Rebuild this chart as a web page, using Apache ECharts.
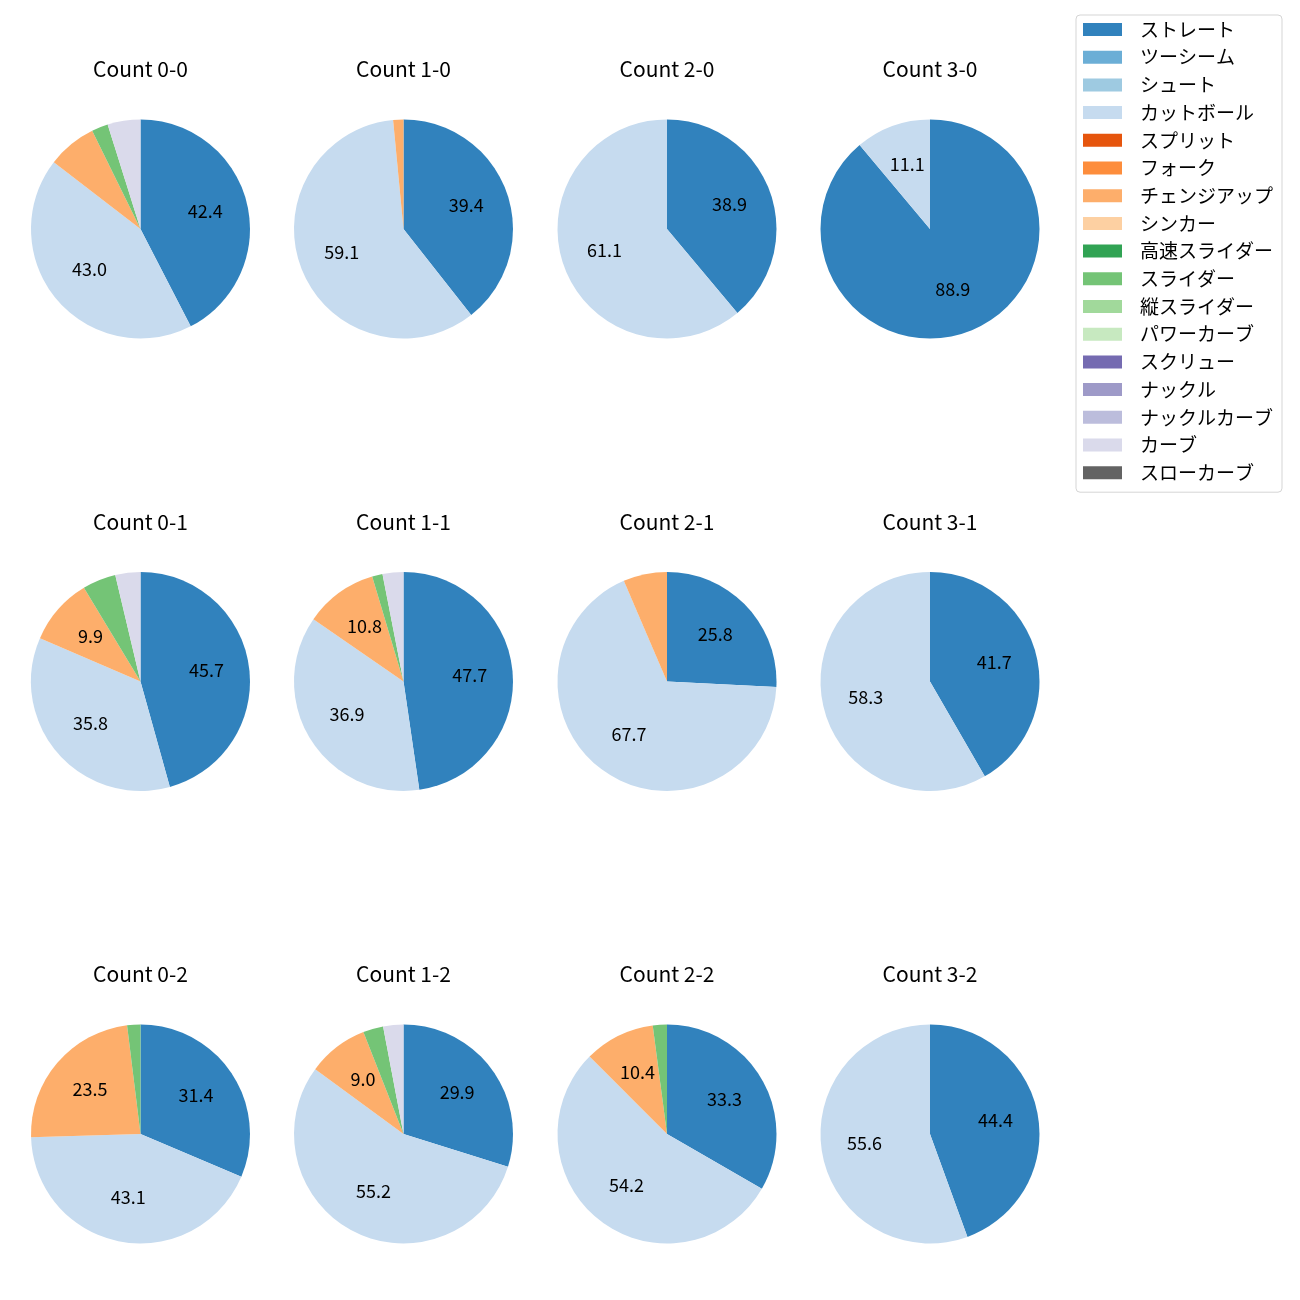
<!DOCTYPE html>
<html><head><meta charset="utf-8">
<script src="https://cdn.jsdelivr.net/npm/echarts@6/dist/echarts.min.js"></script>
<style>html,body{margin:0;padding:0;background:#fff}#chart{width:1300px;height:1300px}</style>
</head><body><div id="chart"></div>
<script>
// pitch types (legend order) and tab20c colours
const pitchTypes = ['ストレート','ツーシーム','シュート','カットボール','スプリット','フォーク','チェンジアップ','シンカー','高速スライダー','スライダー','縦スライダー','パワーカーブ','スクリュー','ナックル','ナックルカーブ','カーブ','スローカーブ'];
const pitchColors = ['#3182bd','#6baed6','#9ecae1','#c6dbef','#e6550d','#fd8d3c','#fdae6b','#fdd0a2','#31a354','#74c476','#a1d99b','#c7e9c0','#756bb1','#9e9ac8','#bcbddc','#dadaeb','#636363'];

// pitch counts per ball-strike count, in pitchTypes order
const count00 = [70,0,0,71,0,0,12,0,0,4,0,0,0,0,0,8,0];
const count10 = [26,0,0,39,0,0,1,0,0,0,0,0,0,0,0,0,0];
const count20 = [7,0,0,11,0,0,0,0,0,0,0,0,0,0,0,0,0];
const count30 = [8,0,0,1,0,0,0,0,0,0,0,0,0,0,0,0,0];
const count01 = [37,0,0,29,0,0,8,0,0,4,0,0,0,0,0,3,0];
const count11 = [31,0,0,24,0,0,7,0,0,1,0,0,0,0,0,2,0];
const count21 = [8,0,0,21,0,0,2,0,0,0,0,0,0,0,0,0,0];
const count31 = [5,0,0,7,0,0,0,0,0,0,0,0,0,0,0,0,0];
const count02 = [16,0,0,22,0,0,12,0,0,1,0,0,0,0,0,0,0];
const count12 = [20,0,0,37,0,0,6,0,0,2,0,0,0,0,0,2,0];
const count22 = [16,0,0,26,0,0,5,0,0,1,0,0,0,0,0,0,0];
const count32 = [4,0,0,5,0,0,0,0,0,0,0,0,0,0,0,0,0];

const panelTitles = ['Count 0-0','Count 1-0','Count 2-0','Count 3-0',
                     'Count 0-1','Count 1-1','Count 2-1','Count 3-1',
                     'Count 0-2','Count 1-2','Count 2-2','Count 3-2'];
const panelData = [count00,count10,count20,count30,count01,count11,count21,count31,count02,count12,count22,count32];

// layout
const colX = [140.5, 403.5, 667, 930];
const rowY = [229, 681.5, 1134];
const R = 109.5;
const FONT = '"Noto Sans CJK JP", "Noto Sans", sans-serif';

const series = [];
const labelSeries = [];
const titles = [];
panelData.forEach((vals, i) => {
  const cx = colX[i % 4], cy = rowY[Math.floor(i / 4)];
  const total = vals.reduce((a, b) => a + b, 0);
  const data = pitchTypes.map((n, k) => ({ name: n, value: vals[k], itemStyle: { color: pitchColors[k] } }));
  series.push({
    type: 'pie', center: [cx, cy], radius: [0, R], startAngle: 90, clockwise: true,
    data: data, label: { show: false }, labelLine: { show: false },
    itemStyle: { borderWidth: 0 }, emphasis: { disabled: true }, silent: true
  });
  labelSeries.push({
    type: 'pie', center: [cx, cy], radius: [R * 0.16, R], startAngle: 90, clockwise: true,
    data: pitchTypes.map((n, k) => ({ name: n, value: vals[k], itemStyle: { color: 'rgba(0,0,0,0)' } })),
    labelLine: { show: false }, emphasis: { disabled: true }, silent: true, legendHoverLink: false,
    itemStyle: { borderWidth: 0 },
    label: {
      show: true, position: 'inside', color: '#000', fontFamily: FONT, fontSize: 18, offset: [0, -2],
      formatter: p => { const pct = p.value / total * 100; return pct >= 8 ? pct.toFixed(1) : ''; }
    }
  });
  titles.push({
    text: panelTitles[i], left: cx, top: cy - 170, textAlign: 'center', padding: 0,
    textStyle: { fontFamily: FONT, fontSize: 21, fontWeight: 'normal', color: '#000' }
  });
});

const chart = echarts.init(document.getElementById('chart'), null, { renderer: 'canvas' });
chart.setOption({
  animation: false,
  backgroundColor: '#fff',
  title: titles,
  legend: {
    data: pitchTypes, orient: 'vertical', left: 1076, top: 15,
    itemWidth: 39, itemHeight: 13, itemGap: 8.7, icon: 'rect', selectedMode: false,
    padding: [5, 9, 10, 7],
    borderColor: '#d5d5d5', borderWidth: 1, borderRadius: 4,
    textStyle: { fontFamily: FONT, fontSize: 19, lineHeight: 19, color: '#000', padding: [0, 0, 0, 13] }
  },
  series: series.concat(labelSeries)
});
</script></body></html>
